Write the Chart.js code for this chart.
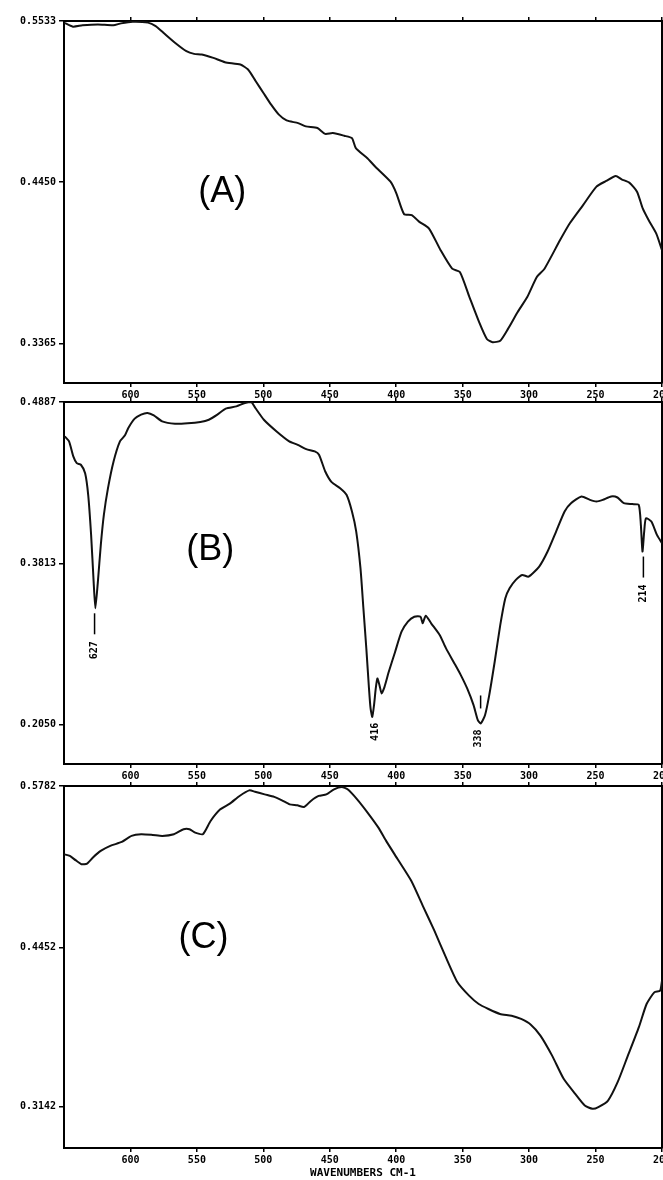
<!DOCTYPE html>
<html>
<head>
<meta charset="utf-8">
<script src="https://cdn.jsdelivr.net/npm/chart.js@4.4.0/dist/chart.umd.min.js"></script>
<style>
    body { margin: 0; background: #fff; width: 663px; height: 1180px; overflow: hidden; position: relative; }
    .panel { position: absolute; left: 0; width: 663px; }
</style>
</head>
<body>
<div class="panel" style="top:0;height:402px"><canvas id="grafico-a"></canvas></div>
<div class="panel" style="top:397px;height:383px"><canvas id="grafico-b"></canvas></div>
<div class="panel" style="top:780px;height:400px"><canvas id="grafico-c"></canvas></div>
<script>
// Marcas del eje de números de onda (común a los tres paneles)
const marcasX = [600, 550, 500, 450, 400, 350, 300, 250, 200];

// Marcas y textos del eje vertical de cada panel
const marcasYA = [0.5533, 0.4450, 0.3365];
const textosYA = ['0.5533', '0.4450', '0.3365'];
const marcasYB = [0.4887, 0.3813, 0.2739];
const textosYB = ['0.4887', '0.3813', '0.2050'];
const marcasYC = [0.5782, 0.4452, 0.3142];
const textosYC = ['0.5782', '0.4452', '0.3142'];

// Espectro (A)
const ondaA = [650.0, 643.3, 636.1, 624.5, 612.9, 607.1, 598.4, 586.8, 581.0, 575.2,
    566.5, 557.9, 552.1, 546.3, 537.6, 528.9, 517.3, 511.5, 505.7, 499.9,
    494.1, 488.3, 482.5, 473.8, 468.0, 459.3, 453.5, 447.7, 439.1, 433.3,
    430.4, 421.7, 415.9, 404.3, 399.9, 394.1, 388.3, 382.6, 375.3, 366.6,
    357.9, 352.1, 344.9, 337.6, 331.8, 327.5, 321.7, 315.9, 308.7, 301.4,
    294.2, 288.4, 276.8, 269.5, 259.4, 249.3, 242.0, 234.8, 230.4, 224.6,
    218.8, 214.5, 210.1, 204.3, 200.0];
const absA = [0.5522, 0.5495, 0.5504, 0.5510, 0.5504, 0.5517, 0.5528, 0.5522, 0.5499, 0.5454,
    0.5387, 0.5330, 0.5312, 0.5308, 0.5285, 0.5256, 0.5240, 0.5207, 0.5128, 0.5049,
    0.4970, 0.4903, 0.4864, 0.4846, 0.4824, 0.4813, 0.4774, 0.4779, 0.4761, 0.4745,
    0.4678, 0.4610, 0.4554, 0.4452, 0.4374, 0.4234, 0.4227, 0.4182, 0.4137, 0.3991,
    0.3867, 0.3845, 0.3676, 0.3507, 0.3394, 0.3372, 0.3383, 0.3462, 0.3574, 0.3676,
    0.3811, 0.3867, 0.4058, 0.4171, 0.4295, 0.4419, 0.4457, 0.4491, 0.4468, 0.4446,
    0.4385, 0.4272, 0.4194, 0.4103, 0.3991];

// Espectro (B)
const ondaB = [649.4, 646.2, 643.0, 640.4, 637.3, 634.1, 631.8, 629.6, 627.7, 626.4,
    624.5, 622.3, 620.0, 616.9, 612.7, 607.9, 604.1, 601.6, 596.8, 592.0,
    587.2, 582.4, 576.1, 566.5, 556.9, 547.4, 541.0, 534.6, 528.3, 520.3,
    513.9, 509.1, 506.0, 499.6, 490.0, 480.5, 474.1, 467.7, 461.3, 458.1,
    453.4, 448.6, 442.2, 437.4, 433.3, 430.1, 426.9, 424.7, 422.5, 420.5,
    419.3, 418.0, 416.7, 415.4, 414.2, 412.6, 411.0, 408.8, 405.6, 400.8,
    396.0, 391.2, 386.4, 381.7, 380.1, 377.8, 373.7, 367.3, 362.5, 356.2,
    351.4, 346.6, 341.8, 338.6, 336.4, 333.2, 330.0, 325.9, 321.7, 317.9,
    314.7, 310.0, 305.2, 300.4, 292.4, 286.1, 279.7, 273.3, 268.5, 260.6,
    254.2, 249.4, 244.6, 238.3, 233.5, 228.7, 222.3, 217.5, 215.9, 214.7,
    213.4, 212.1, 208.0, 203.8, 200.0];
const absB = [0.4658, 0.4625, 0.4525, 0.4480, 0.4469, 0.4413, 0.4269, 0.4002, 0.3691, 0.3513,
    0.3691, 0.3935, 0.4135, 0.4313, 0.4491, 0.4625, 0.4665, 0.4714, 0.4776, 0.4803,
    0.4814, 0.4798, 0.4758, 0.4742, 0.4745, 0.4754, 0.4769, 0.4803, 0.4843, 0.4858,
    0.4880, 0.4887, 0.4847, 0.4769, 0.4691, 0.4625, 0.4602, 0.4573, 0.4558, 0.4536,
    0.4424, 0.4353, 0.4313, 0.4269, 0.4158, 0.4024, 0.3780, 0.3513, 0.3246, 0.2979,
    0.2846, 0.2790, 0.2868, 0.2979, 0.3046, 0.3001, 0.2946, 0.2990, 0.3090, 0.3224,
    0.3357, 0.3424, 0.3457, 0.3457, 0.3413, 0.3464, 0.3413, 0.3335, 0.3246, 0.3146,
    0.3068, 0.2979, 0.2868, 0.2768, 0.2746, 0.2801, 0.2935, 0.3157, 0.3402, 0.3580,
    0.3646, 0.3702, 0.3735, 0.3724, 0.3791, 0.3891, 0.4024, 0.4158, 0.4213, 0.4258,
    0.4235, 0.4224, 0.4235, 0.4258, 0.4251, 0.4213, 0.4207, 0.4202, 0.4069, 0.3891,
    0.4024, 0.4113, 0.4091, 0.4002, 0.3946];

// Picos marcados en (B)
const picosB = [627, 416, 338, 214];
const textosPicosB = ['627', '416', '338', '214'];
const rayaPicosB = ['abajo', 'no', 'arriba', 'abajo'];

// Espectro (C)
const ondaC = [650.0, 645.6, 641.3, 636.9, 632.6, 628.2, 622.4, 615.2, 606.5, 599.2,
    591.9, 583.2, 576.0, 567.3, 560.0, 555.6, 551.3, 545.5, 539.7, 532.4,
    525.2, 517.9, 510.6, 506.3, 499.0, 491.8, 486.0, 480.2, 474.4, 469.4,
    464.2, 458.4, 452.6, 446.8, 441.0, 436.6, 429.4, 420.6, 413.4, 407.6,
    398.9, 388.7, 380.0, 371.3, 362.6, 353.9, 345.2, 337.9, 330.6, 321.9,
    313.2, 306.0, 298.7, 291.5, 282.7, 274.0, 265.3, 258.1, 252.3, 247.9,
    240.6, 233.4, 226.1, 217.4, 211.6, 205.8, 201.4, 200.0];
const absC = [0.5220, 0.5206, 0.5171, 0.5138, 0.5143, 0.5193, 0.5247, 0.5289, 0.5321, 0.5371,
    0.5385, 0.5379, 0.5371, 0.5385, 0.5426, 0.5426, 0.5398, 0.5385, 0.5494, 0.5590,
    0.5637, 0.5700, 0.5746, 0.5735, 0.5713, 0.5692, 0.5664, 0.5631, 0.5623, 0.5609,
    0.5659, 0.5700, 0.5713, 0.5755, 0.5774, 0.5755, 0.5672, 0.5549, 0.5439, 0.5330,
    0.5179, 0.5001, 0.4795, 0.4590, 0.4370, 0.4165, 0.4055, 0.3986, 0.3945, 0.3904,
    0.3890, 0.3863, 0.3816, 0.3726, 0.3561, 0.3370, 0.3246, 0.3150, 0.3123, 0.3137,
    0.3191, 0.3342, 0.3548, 0.3795, 0.3986, 0.4082, 0.4096, 0.4178];

const fuenteEje = { family: '"DejaVu Sans Mono", monospace', size: 10, weight: 'bold' };

// Plugin para la letra del panel y los números de los picos
const pluginEtiquetas = {
    id: 'etiquetas',
    afterDatasetsDraw(chart, args, opciones) {
        const ctx = chart.ctx;
        const ejeX = chart.scales.x;
        const ejeY = chart.scales.y;
        ctx.save();
        ctx.fillStyle = '#000';
        ctx.strokeStyle = '#000';
        ctx.textAlign = 'center';
        ctx.textBaseline = 'middle';
        if (opciones.letra) {
            ctx.font = '36px "Liberation Sans", Arial, sans-serif';
            ctx.fillText(opciones.letra.texto, ejeX.getPixelForValue(opciones.letra.x), ejeY.getPixelForValue(opciones.letra.y));
        }
        const puntos = chart.data.datasets[0].data;
        (opciones.picos || []).forEach((pico, i) => {
            const cercanos = puntos.filter(p => Math.abs(p.x - pico) <= 4);
            const minimo = Math.min(...cercanos.map(p => p.y));
            const px = ejeX.getPixelForValue(pico);
            const py = ejeY.getPixelForValue(minimo);
            const raya = opciones.rayas[i];
            ctx.lineWidth = 1.5;
            ctx.beginPath();
            if (raya === 'abajo') { ctx.moveTo(px, py + 5); ctx.lineTo(px, py + 26); }
            if (raya === 'arriba') { ctx.moveTo(px + 2, py - 28); ctx.lineTo(px + 2, py - 15); }
            ctx.stroke();
            ctx.save();
            ctx.translate(px, py + (raya === 'abajo' ? 42 : 15));
            ctx.rotate(-Math.PI / 2);
            ctx.font = 'bold 10px "DejaVu Sans Mono", monospace';
            ctx.fillText(opciones.textos[i], 0, 0);
            ctx.restore();
        });
        ctx.restore();
    }
};

// Función para crear un panel del espectro
function crearPanel(idCanvas, ondas, valores, cfg) {
    const marcasFijasX = s => { s.ticks = marcasX.map(v => ({ value: v })); };
    const marcasFijasY = s => { s.ticks = cfg.marcasY.map(v => ({ value: v })); };
    const rejilla = { drawOnChartArea: false, color: '#000', lineWidth: 1.5, tickLength: 4 };
    const borde = { display: true, color: '#000', width: 2 };
    return new Chart(document.getElementById(idCanvas), {
        type: 'line',
        data: {
            datasets: [{
                data: ondas.map((x, i) => ({ x: x, y: valores[i] })),
                borderColor: '#111',
                borderWidth: 2,
                pointRadius: 0,
                tension: 0.2,
                fill: false
            }]
        },
        options: {
            responsive: true,
            maintainAspectRatio: false,
            animation: false,
            layout: { padding: { top: cfg.arriba, left: 0, right: 0, bottom: 0 } },
            plugins: {
                legend: { display: false },
                tooltip: { enabled: false },
                etiquetas: {
                    letra: cfg.letra,
                    picos: cfg.picos,
                    textos: cfg.textosPicos,
                    rayas: cfg.rayas
                }
            },
            scales: {
                x: {
                    type: 'linear', position: 'bottom', reverse: true, min: 200, max: 650,
                    afterBuildTicks: marcasFijasX,
                    ticks: { color: '#000', font: fuenteEje, padding: 2, maxRotation: 0, autoSkip: false, callback: v => String(v) },
                    grid: rejilla,
                    border: borde,
                    title: {
                        display: !!cfg.tituloX,
                        text: cfg.tituloX || '',
                        color: '#000',
                        font: { family: '"DejaVu Sans Mono", monospace', size: 11, weight: 'bold' },
                        padding: { top: 1, bottom: 0 }
                    },
                    afterFit: s => { s.height = cfg.altoEjeX; s.paddingLeft = 0; s.paddingRight = 0; }
                },
                xArriba: {
                    type: 'linear', position: 'top', reverse: true, min: 200, max: 650,
                    afterBuildTicks: marcasFijasX,
                    ticks: { display: false },
                    grid: rejilla,
                    border: borde,
                    afterFit: s => { s.height = 0; s.paddingLeft = 0; s.paddingRight = 0; }
                },
                y: {
                    type: 'linear', position: 'left', min: cfg.minY, max: cfg.maxY, bounds: 'data',
                    afterBuildTicks: marcasFijasY,
                    ticks: { color: '#000', font: fuenteEje, padding: 3, callback: (v, i) => cfg.textosY[i] },
                    grid: { drawOnChartArea: false, color: '#000', lineWidth: 1.5, tickLength: 5 },
                    border: borde,
                    afterFit: s => { s.width = 64; s.paddingTop = 0; s.paddingBottom = 0; }
                },
                yDerecha: {
                    type: 'linear', position: 'right', min: cfg.minY, max: cfg.maxY, bounds: 'data',
                    afterBuildTicks: marcasFijasY,
                    ticks: { display: false },
                    grid: rejilla,
                    border: borde,
                    afterFit: s => { s.width = 1; s.paddingTop = 0; s.paddingBottom = 0; }
                }
            }
        },
        plugins: [pluginEtiquetas]
    });
}

crearPanel('grafico-a', ondaA, absA, {
    arriba: 21, altoEjeX: 19, minY: 0.3098, maxY: 0.5533,
    marcasY: marcasYA, textosY: textosYA,
    letra: { texto: '(A)', x: 531, y: 0.438 }
});

crearPanel('grafico-b', ondaB, absB, {
    arriba: 5, altoEjeX: 16, minY: 0.2476, maxY: 0.4887,
    marcasY: marcasYB, textosY: textosYB,
    letra: { texto: '(B)', x: 540, y: 0.390 },
    picos: picosB, textosPicos: textosPicosB, rayas: rayaPicosB
});

crearPanel('grafico-c', ondaC, absC, {
    arriba: 6, altoEjeX: 32, minY: 0.2800, maxY: 0.5782,
    marcasY: marcasYC, textosY: textosYC,
    letra: { texto: '(C)', x: 545, y: 0.453 },
    tituloX: 'WAVENUMBERS CM-1'
});
</script>
</body>
</html>
